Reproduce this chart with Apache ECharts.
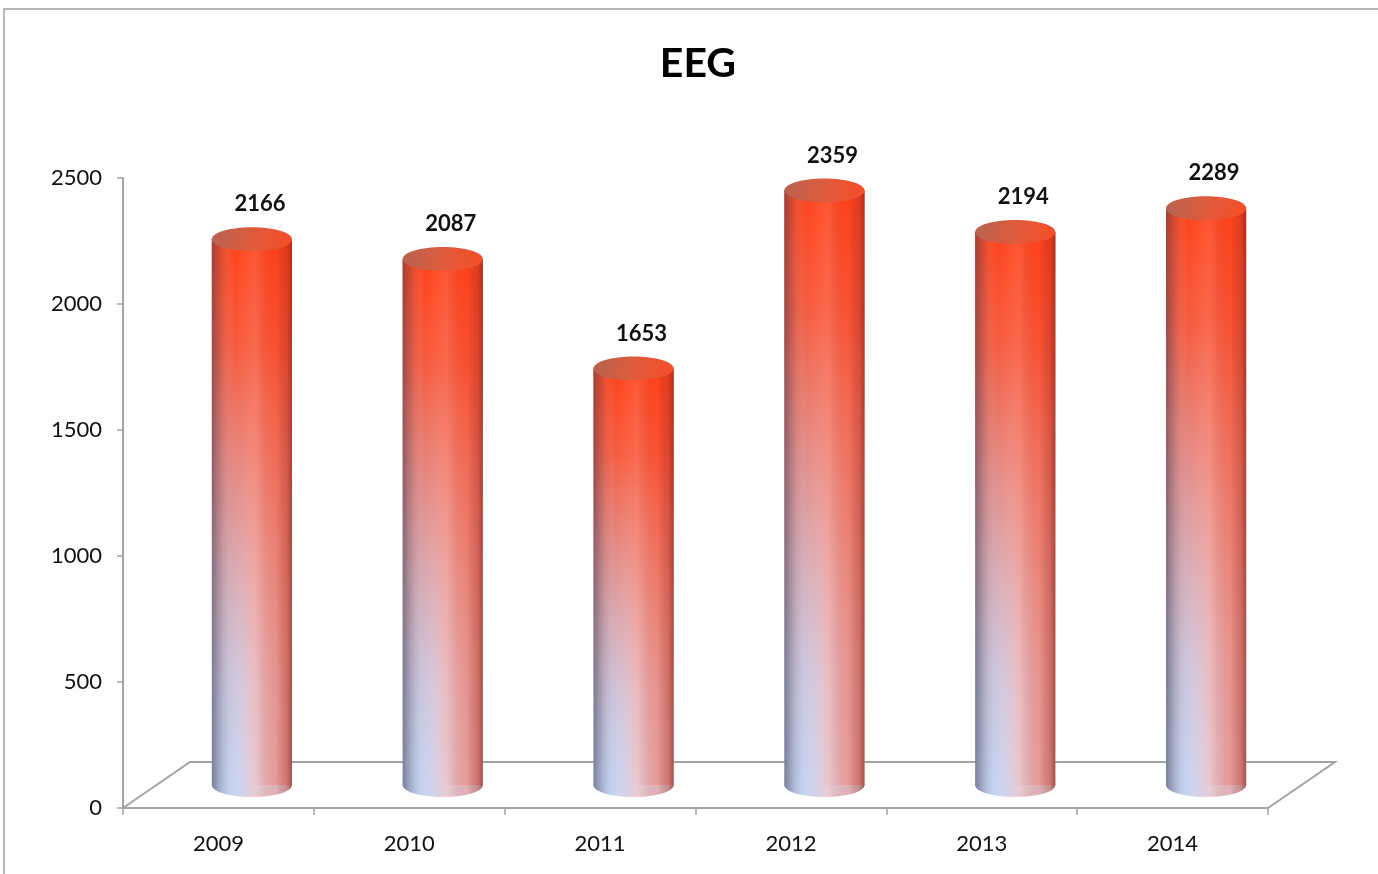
<!DOCTYPE html>
<html>
<head>
<meta charset="utf-8">
<script src="https://cdn.jsdelivr.net/npm/echarts@6/dist/echarts.min.js"></script>
<style>
  html, body { margin: 0; padding: 0; background: #fff; }
  #chart { width: 1378px; height: 874px; }
</style>
</head>
<body>
<div id="chart"></div>
<script>
// Yearly EEG counts
const years = ['2009', '2010', '2011', '2012', '2013', '2014'];
const eegCounts = [2166, 2087, 1653, 2359, 2194, 2289];
const valueTicks = [0, 500, 1000, 1500, 2000, 2500];

// Pseudo-3D depth of the floor (pixels): back edge is shifted right and up
const DEPTH_X = 67;
const DEPTH_Y = -46;
const FONT = 'Lato, "Open Sans", sans-serif';
const AXIS_GRAY = '#a3a3a3';

const G = echarts.graphic;

function horiz(stops) { return new G.LinearGradient(0, 0, 1, 0, stops); }
function vert(stops) { return new G.LinearGradient(0, 0, 0, 1, stops); }

// Cool-to-warm base of the cylinder skin (bottom colours)
const baseFill = () => horiz([
  { offset: 0, color: '#b4c2e0' },
  { offset: 0.3, color: '#c8d5f3' },
  { offset: 0.55, color: '#e6c6d0' },
  { offset: 1, color: '#dca0a0' }
]);
// Red-orange wash that fades out toward the floor
const warmWash = () => vert([
  { offset: 0, color: 'rgba(255,66,26,1)' },
  { offset: 0.2, color: 'rgba(252,74,38,0.88)' },
  { offset: 0.5, color: 'rgba(246,96,70,0.52)' },
  { offset: 0.8, color: 'rgba(240,120,100,0.15)' },
  { offset: 1, color: 'rgba(240,130,120,0)' }
]);
// Extra warmth toward the right side
const warmSide = () => horiz([
  { offset: 0, color: 'rgba(255,70,40,0)' },
  { offset: 0.45, color: 'rgba(255,70,40,0)' },
  { offset: 1, color: 'rgba(255,60,30,0.3)' }
]);
// Round shading: darker rims, lighter centre
const rimShade = () => horiz([
  { offset: 0, color: 'rgba(60,62,85,0.5)' },
  { offset: 0.1, color: 'rgba(80,82,105,0.22)' },
  { offset: 0.28, color: 'rgba(255,255,255,0)' },
  { offset: 0.55, color: 'rgba(255,255,255,0.1)' },
  { offset: 0.8, color: 'rgba(0,0,0,0)' },
  { offset: 0.93, color: 'rgba(100,30,30,0.18)' },
  { offset: 1, color: 'rgba(90,20,20,0.45)' }
]);
const capFill = () => new G.LinearGradient(0, 0, 1, 1, [
  { offset: 0, color: '#b46452' },
  { offset: 0.55, color: '#e25a3a' },
  { offset: 1, color: '#f84c26' }
]);

function renderFloor(params, api) {
  const cs = params.coordSys;
  const yb = cs.y + cs.height;
  return {
    type: 'polyline',
    shape: {
      points: [
        [cs.x, yb],
        [cs.x + DEPTH_X, yb + DEPTH_Y],
        [cs.x + cs.width + DEPTH_X, yb + DEPTH_Y],
        [cs.x + cs.width, yb]
      ]
    },
    style: { stroke: AXIS_GRAY, lineWidth: 2, fill: null }
  };
}

function renderCylinder(params, api) {
  const idx = api.value(0);
  const val = api.value(1);
  const top = api.coord([idx, val]);
  const base = api.coord([idx, 0]);
  const band = api.size([1, 0])[0];
  const rx = band * 0.21;
  const ry = 12;
  const cx = top[0] + DEPTH_X / 2;
  const yTop = top[1] + DEPTH_Y / 2;
  const yBase = base[1] + DEPTH_Y / 2;
  const rect = { x: cx - rx, y: yTop, width: rx * 2, height: yBase - yTop };
  const bottomEllipse = { cx: cx, cy: yBase, rx: rx, ry: ry };
  return {
    type: 'group',
    children: [
      { type: 'ellipse', shape: bottomEllipse, style: { fill: baseFill() } },
      { type: 'ellipse', shape: bottomEllipse, style: { fill: rimShade() } },
      { type: 'rect', shape: rect, style: { fill: baseFill() } },
      { type: 'rect', shape: rect, style: { fill: warmWash() } },
      { type: 'rect', shape: rect, style: { fill: warmSide() } },
      { type: 'rect', shape: rect, style: { fill: rimShade() } },
      { type: 'ellipse', shape: { cx: cx, cy: yTop, rx: rx, ry: ry }, style: { fill: capFill() } },
      {
        type: 'text',
        x: cx + 8,
        y: yTop - 35,
        style: {
          text: String(val),
          fill: '#111',
          fontFamily: FONT,
          fontSize: 22,
          fontWeight: 'bold',
          align: 'center',
          verticalAlign: 'middle'
        }
      }
    ]
  };
}

const chart = echarts.init(document.getElementById('chart'), null, { renderer: 'canvas' });
chart.setOption({
  backgroundColor: '#ffffff',
  animation: false,
  title: {
    text: 'EEG',
    left: 693,
    textAlign: 'center',
    top: 38,
    textStyle: { fontFamily: FONT, fontSize: 41, fontWeight: 'bold', color: '#000' }
  },
  graphic: [{
    type: 'rect',
    shape: { x: 4, y: 9, width: 1420, height: 900 },
    style: { fill: null, stroke: '#a0a0a0', lineWidth: 1.5 },
    silent: true
  }],
  grid: { left: 123, right: 110, top: 178, bottom: 66 },
  xAxis: {
    type: 'category',
    data: years,
    boundaryGap: true,
    axisLine: { lineStyle: { color: AXIS_GRAY, width: 2 } },
    axisTick: { show: true, inside: false, length: 7, lineStyle: { color: AXIS_GRAY, width: 1.5 } },
    axisLabel: { margin: 25, fontFamily: FONT, fontSize: 22, color: '#111' },
    splitLine: { show: false }
  },
  yAxis: {
    type: 'value',
    min: valueTicks[0],
    max: valueTicks[valueTicks.length - 1],
    interval: valueTicks[1] - valueTicks[0],
    axisLine: { show: true, lineStyle: { color: AXIS_GRAY, width: 2 } },
    axisTick: { show: true, inside: false, length: 6, lineStyle: { color: AXIS_GRAY, width: 1.5 } },
    axisLabel: { margin: 21, fontFamily: FONT, fontSize: 22, color: '#111', formatter: (v) => String(v) },
    splitLine: { show: false }
  },
  series: [
    {
      type: 'custom',
      name: 'floor',
      renderItem: renderFloor,
      data: [[0, 0]],
      silent: true,
      z: 1
    },
    {
      type: 'custom',
      name: 'EEG',
      renderItem: renderCylinder,
      encode: { x: 0, y: 1 },
      data: eegCounts.map((v, i) => [i, v]),
      z: 2
    }
  ]
});
</script>
</body>
</html>
